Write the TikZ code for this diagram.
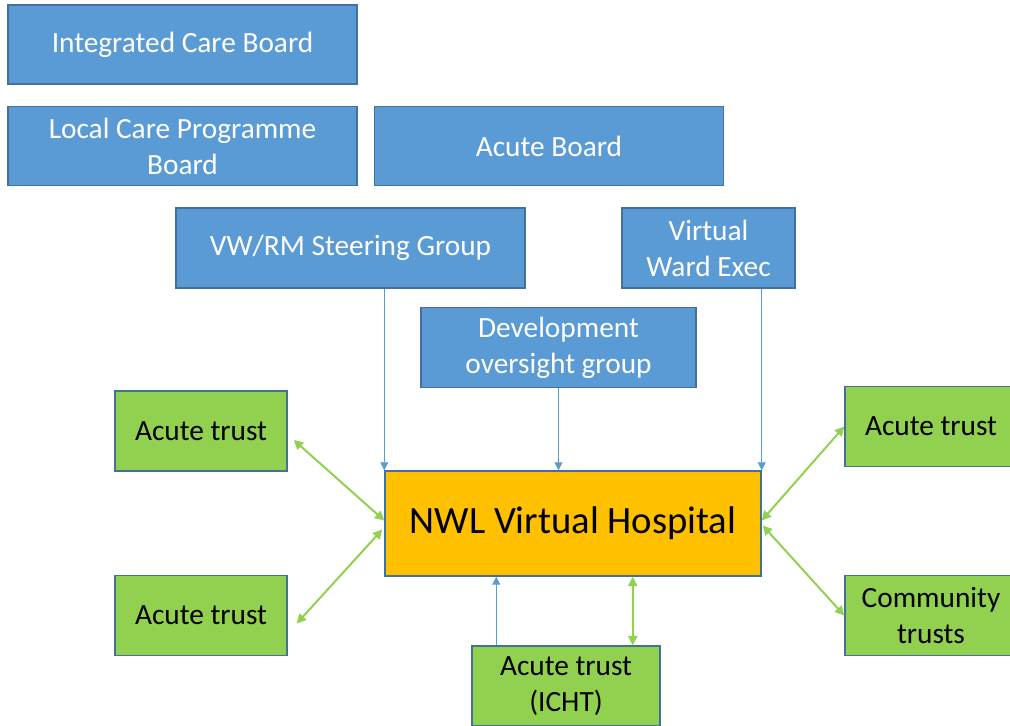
\documentclass[tikz,border=0pt]{standalone}
\usepackage{fontspec}
\setmainfont{Carlito}
\usetikzlibrary{arrows.meta, positioning, calc}

\definecolor{boardblue}{HTML}{5B9BD5}
\definecolor{edgeblue}{HTML}{41719C}
\definecolor{trustgreen}{HTML}{92D050}
\definecolor{hubamber}{HTML}{FFC000}

\begin{document}
\begin{tikzpicture}[
    x=0.75pt, y=-0.75pt,
    box/.style={rectangle, draw=edgeblue, line width=1.1pt, align=center, inner sep=2pt, font=\fontsize{22}{27}\selectfont},
    board/.style={box, fill=boardblue, text=white, minimum height=60pt},
    trust/.style={box, fill=trustgreen, minimum width=129pt, minimum height=60pt},
    hub/.style={box, fill=hubamber, minimum width=282pt, minimum height=78.75pt, font=\fontsize{29}{35}\selectfont},
    link/.style={draw=boardblue, line width=0.6pt, -{Triangle[length=6pt,width=6pt]}},
    twoway/.style={draw=trustgreen, line width=1.5pt, {Triangle[length=7pt,width=7pt]}-{Triangle[length=7pt,width=7pt]}}
]
\useasboundingbox (0,0) rectangle (1010,725);

% Boards
\node[board, minimum width=261.75pt, minimum height=59.25pt] (icb) at (182.5,44.5) {Integrated Care Board};
\node[board, minimum width=261.75pt, minimum height=59.25pt, below=15.75pt of icb] (lcpb) {Local Care Programme\\Board};
\node[board, minimum width=261.75pt, minimum height=59.25pt, right=12pt of lcpb] (acb) {Acute Board};

% Groups
\node[board, minimum width=261.75pt] (steer) at (350.5,248) {VW/RM Steering Group};
\node[board, minimum width=129.75pt] (exec) at (708.5,248) {Virtual\\Ward Exec};
\node[board, minimum width=206.25pt] (dev) at (558.5,347.5) {Development\\oversight group};

% Hospital
\node[hub] (hosp) at (573,523.5) {NWL Virtual Hospital};

% Trusts
\node[trust] (lt1) at (201,431) {Acute trust};
\node[trust] (lt2) at (201,615.5) {Acute trust};
\node[trust] (rt1) at (931,426.5) {Acute trust};
\node[trust] (rt2) at (931,615.5) {Community\\trusts};
\node[trust, minimum width=141pt] (icht) at (566,686) {Acute trust\\(ICHT)};

% Arrows
\draw[link] (hosp.north west |- steer.south) -- (hosp.north west);
\draw[link, line width=1pt] (dev.south) -- (dev.south |- hosp.north);
\draw[link] (hosp.north east |- exec.south) -- (hosp.north east);

\draw[twoway] ($(lt1.east)+(6,9)$) -- ($(hosp.west)+(0,-3)$);
\draw[twoway] ($(lt2.east)+(9,8)$) -- ($(hosp.west)+(-2,6)$);
\draw[twoway] ($(hosp.east)+(0,-3)$) -- (rt1.west);
\draw[twoway] ($(hosp.east)+(1,2)$) -- (rt2.west);

\draw[link, line width=1pt] ($(icht.north west)+(25,0)$) coordinate (up) -- (up |- hosp.south);
\draw[twoway, line width=1.2pt] ($(icht.north east)+(-28,0)$) coordinate (dn) -- (dn |- hosp.south);

\end{tikzpicture}
\end{document}
